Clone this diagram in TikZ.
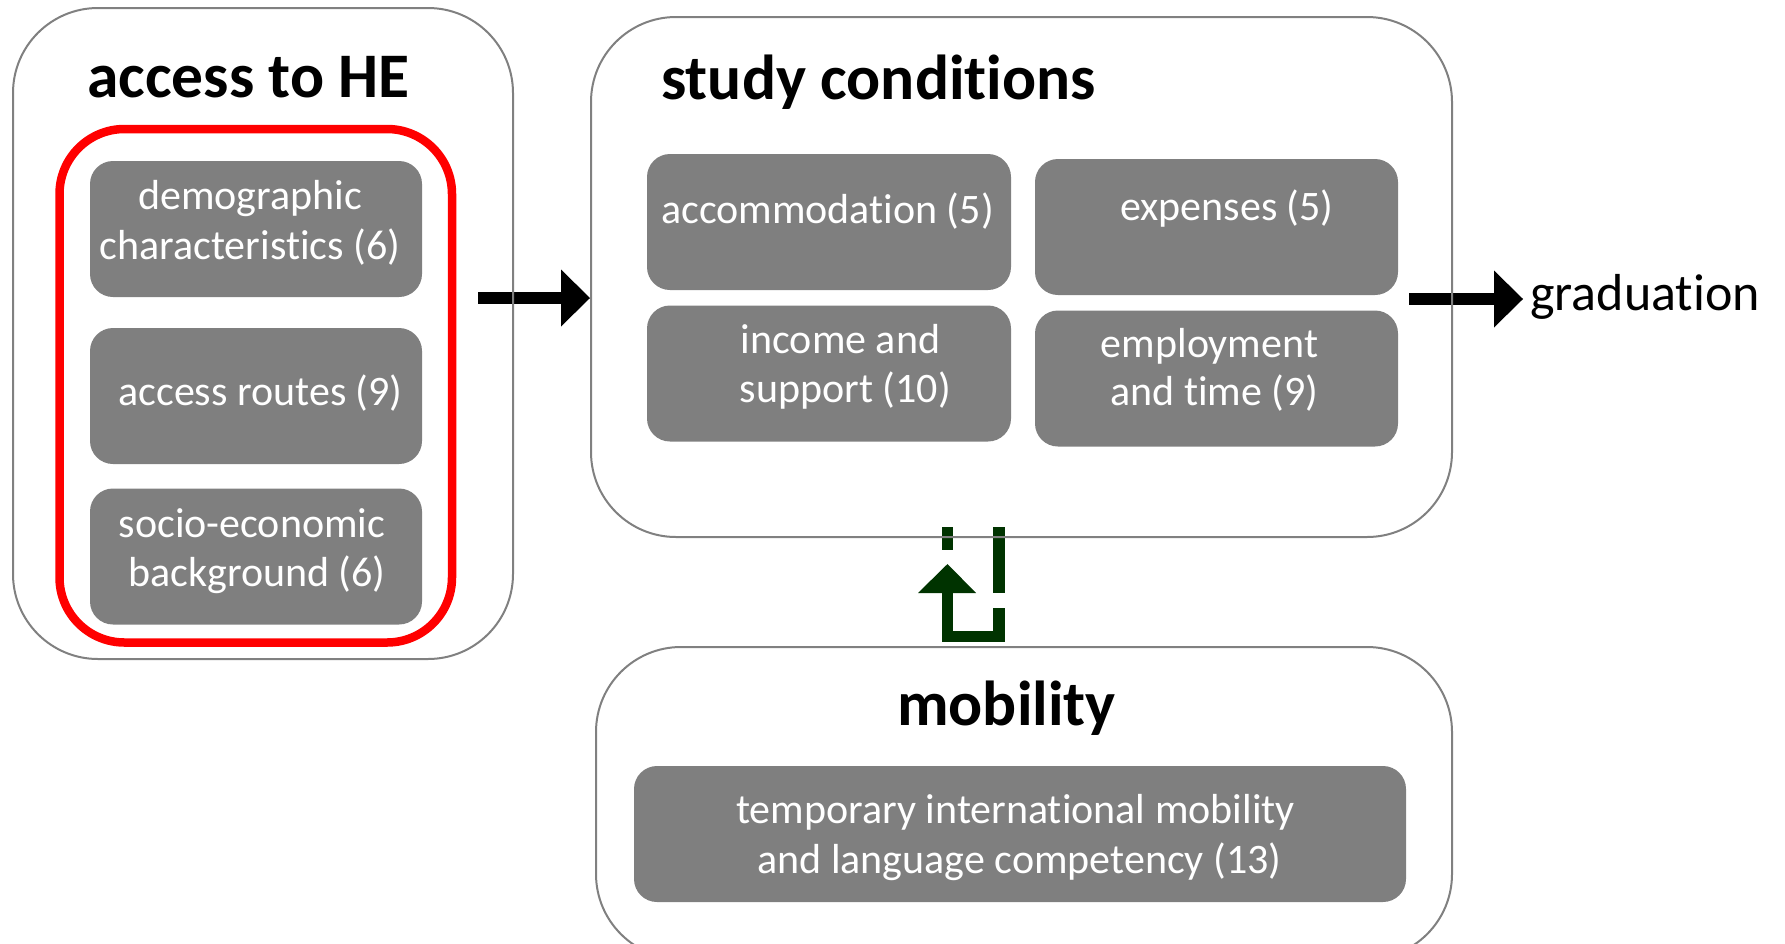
\documentclass[tikz,border=0pt]{standalone}
\usepackage{fontspec}
\setmainfont{Carlito}[Ligatures=NoCommon]
\usetikzlibrary{arrows.meta,backgrounds}
\definecolor{boxgray}{RGB}{127,127,127}
\definecolor{outl}{RGB}{128,128,128}
\definecolor{dkgreen}{RGB}{0,51,0}
\definecolor{hlred}{RGB}{255,0,0}
\tikzset{
  group/.style={draw=outl, line width=2pt, rounded corners=85pt, inner sep=0pt},
  hilite/.style={draw=hlred, line width=8.5pt, rounded corners=65pt, inner sep=0pt},
  item/.style={fill=boxgray, rounded corners=23pt, inner sep=0pt, minimum height=136pt},
  itemtxt/.style={text=white, font=\fontsize{42}{50}\selectfont, inner sep=0pt, anchor=base},
  titletxt/.style={font=\bfseries\fontsize{63.5}{70}\selectfont, inner sep=0pt, anchor=base},
  bigarrow/.style={line width=12.5pt, -{Triangle[length=29pt,width=57pt,line width=0pt]}},
  greenbar/.style={draw=dkgreen, line width=11.5pt, line join=miter},
}
\begin{document}
\begin{tikzpicture}[x=1pt,y=-1pt]
\useasboundingbox (0,0) rectangle (1785,943);

% group boxes
\node[group, minimum width=500pt, minimum height=651pt] (access) at (263,333.5) {};
\node[hilite, minimum width=392.5pt, minimum height=513.5pt] (red) at (255.75,385.75) {};
\node[group, minimum width=861pt, minimum height=520pt] (study) at (1021.5,277) {};
\node[group, minimum width=856pt, minimum height=312pt] (mob) at (1024,803) {};

% titles
\node[titletxt] (tacc) at (248.5,97.6) {access to HE};
\node[titletxt] (tstudy) at (878.5,99) {study conditions};
\node[titletxt] (tmob) at (1006.5,725) {mobility};

% item boxes
\node[item, minimum width=332pt] (demo) at (256,229) {};
\node[item, minimum width=332pt] (routes) at (256,396) {};
\node[item, minimum width=332pt] (socio) at (256,556.5) {};
\node[item, minimum width=364pt] (accom) at (829,222) {};
\node[item, minimum width=363pt] (expen) at (1216.5,227) {};
\node[item, minimum width=364pt] (income) at (829,373.5) {};
\node[item, minimum width=363pt] (employ) at (1216.5,378.5) {};
\node[item, minimum width=772pt] (temp) at (1020,834) {};

% item texts
\node[itemtxt] (demo1) at (250,209) {demographic};
\node[itemtxt] (demo2) at (250,259) {characteristics (6)};
\node[itemtxt] (routes1) at (260.5,405.5) {access routes (9)};
\node[itemtxt] (socio1) at (252,537) {socio-economic};
\node[itemtxt] (socio2) at (257,586) {background (6)};
\node[itemtxt] (accom1) at (827.5,223) {accommodation (5)};
\node[itemtxt] (expen1) at (1227,220) {expenses (5)};
\node[itemtxt] (income1) at (840.5,353) {income and};
\node[itemtxt] (income2) at (845.5,402) {support (10)};
\node[itemtxt] (employ1) at (1209.5,357) {employment};
\node[itemtxt] (employ2) at (1214.5,405) {and time (9)};
\node[itemtxt] (temp1) at (1015.5,823) {temporary international mobility};
\node[itemtxt] (temp2) at (1019.5,873) {and language competency (13)};

% graduation
\node[font=\fontsize{52}{60}\selectfont, inner sep=0pt, anchor=base west] (grad) at (1530,310) {graduation};

% connectors (under the box outlines)
\coordinate (a1s) at (478,298);
\coordinate (a2s) at (1409,299);
\coordinate (a2e) at (1523,299);
\begin{pgfonlayer}{background}
  \draw[bigarrow] (a1s) -- (study.west |- a1s);
  \draw[bigarrow] (a2s) -- (a2e);
  % mobility -> study conditions (green dashed turn arrow)
  \fill[dkgreen] (942,527) rectangle (953,550);
  \fill[dkgreen] (993,527) rectangle (1005,593);
  \draw[greenbar] (999,608) -- (999,636.5) -- (947.5,636.5) -- (947.5,593);
  \fill[dkgreen] (918,593) -- (976,593) -- (947.5,564) -- cycle;
\end{pgfonlayer}
\end{tikzpicture}
\end{document}
